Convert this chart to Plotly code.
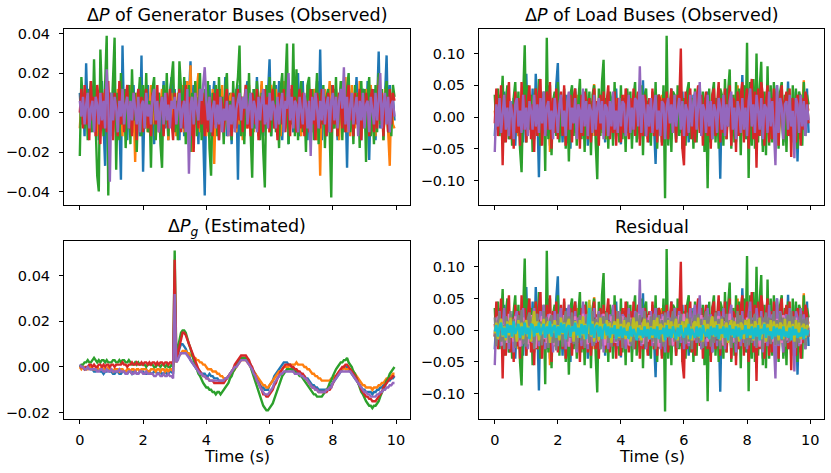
import numpy as np
import plotly.graph_objects as go

# ---------------- data (values in units of 1e-3, sampled every 0.05 s) ----------------
gen_blue = [10, -6, 8, -12, 25, -4, 12, -10, 6, 14, -8, 10, -14, 4, 16, -6, -27, 12, -8, 10,
            -12, 6, 14, -10, 8, -4, -34, 34, -6, 12, -14, 8, 4, -10, 14, -8, 6, 12, -12, 29,
            -30, 8, -6, 14, -10, 4, 12, -16, 8, -4, 10, -12, 6, 16, -8, 4, -14, 10, 18, -6,
            12, -8, 4, -14, 10, 6, -12, 16, -4, 8, 26, -10, 14, -6, 8, -16, 12, 4, -10, -42,
            10, -8, 14, -12, 6, 16, -10, 4, -14, 12, 8, -6, 18, -12, 4, 10, -16, 8, -4, 12,
            -34, 14, -8, 6, -12, 10, 16, -6, 4, -14, 12, -8, 18, -10, 6, 14, -12, 4, -8, 10,
            27, -12, 8, -6, 14, -10, 16, 4, -14, 10, -6, 12, -16, 8, 4, -10, 14, -8, 20, -12,
            6, 16, -10, 4, -14, 12, 8, -6, 10, -12, 16, -8, 32, -14, 6, 10, -12, 4, -10, 14,
            -8, 12, 6, -14, 10, -4, 16, -10, 8, -28, 14, -6, 10, -12, 4, 18, -8, 6, -14, 12,
            10, -10, 16, -24, 8, -6, 12, -14, 4, 31, -8, 10, -12, 6, 29, -10, 14, -6, 8, -4]
gen_orange = [-8, 6, -4, 10, -2, 8, -10, 4, 12, -6, 8, -12, 6, 2, -8, 10, -4, 12, -10, 6,
              4, -10, 8, -6, 12, -4, 6, -12, 10, -2, 8, -6, 14, -10, 4, -25, 10, -6, 8, -4,
              12, -8, 6, -10, 4, 14, -6, 8, -12, 10, -4, 6, 12, -10, 2, 8, -14, 6, 10, -8,
              4, -12, 10, 8, -6, 14, -10, 4, 16, -8, 24, -20, 8, -6, 12, 20, -10, 6, -4, 10,
              -12, 8, 4, -10, 12, -26, 6, -8, 10, -4, 14, -10, 6, 2, -12, 8, 10, -6, 4, -10,
              12, -6, 8, -14, 4, 10, -8, 14, -4, 6, -10, 12, 8, -12, 4, 16, -6, 10, -8, 4,
              -10, 14, 6, -8, 12, -4, 10, -12, 6, 16, -8, 4, -10, 12, 8, -6, 14, -10, 4, 8,
              -12, 10, 6, -8, 14, -6, 4, -10, 12, 8, -14, 6, -32, 10, -4, 12, -8, 6, 16, -10,
              4, -8, 12, 6, -14, 10, -4, 8, 18, -10, 6, -12, 14, 4, -8, 10, -6, 16, -12, 8,
              -4, 12, -10, 6, 14, -8, 4, -12, 10, 18, -6, 8, -14, 12, 4, -10, -27, 10, -6, -8]
gen_green = [-22, 18, 4, -8, 12, -14, 6, 16, -10, 27, -6, -32, -40, 32, 8, -12, 14, 39, -42, 10,
             -4, 16, 38, -29, 10, -14, 20, -6, 12, -18, 8, 14, -16, 22, -4, 10, -20, 6, 18, -12,
             14, -8, 20, -10, 6, -28, 12, 18, -14, 4, 10, -16, -28, 14, -6, 20, -12, 8, 16, 26,
             -10, 6, -14, 26, 12, -8, 18, -16, 4, 14, -20, 10, -6, 16, -12, 8, 20, -14, 2, 12,
             -8, 16, -18, -32, 10, -6, 14, -12, 18, -4, 8, -16, 12, 20, -10, 6, -14, 16, -8, 10,
             18, 34, -12, 8, -16, 14, -6, 20, -10, -33, 12, -8, 16, 4, -14, 10, -20, -38, 14, -6,
             18, -12, 8, 16, -10, 4, -18, 12, 20, -8, 14, 35, -16, 10, -6, 35, -12, 22, -14, 8,
             16, -10, 6, -20, 14, 18, -8, 12, -14, 4, 20, -16, 10, -6, 14, -18, 8, 12, -10, -43,
             14, -8, 18, -12, 6, 16, -14, 10, -6, 12, 20, -10, 8, -16, 14, -4, 10, -18, 16, -8,
             12, -25, 8, 18, -12, 6, -16, 14, -10, 20, -6, 12, -14, 8, 16, -10, 4, -12, 14, 8]
gen_red = [0, 12, -8, 14, -6, 10, -14, 16, -4, 8, -12, 14, 6, -16, 10, -8, 12, -10, 16, -6,
           8, -14, 10, 4, -12, 16, -6, 10, -10, 6, 14, -8, 4, -12, 10, 6, -14, 12, -4, 8,
           -10, 6, 12, -8, 4, -12, 10, 8, -6, 14, -10, 4, 8, -12, 6, 10, -8, 12, -4, -14,
           10, -6, 4, 12, -10, 6, -8, 14, -4, 8, -12, 6, -20, 10, 4, -8, 12, -6, 10, -12,
           6, -10, 8, 4, -12, 10, -6, 12, -14, 8, 4, -10, 6, 12, -8, 4, -12, 10, 6, -8,
           12, -4, 8, -10, 6, 14, -8, 4, -12, 10, 6, -6, 12, -14, 8, 4, -10, 12, -6, 8,
           -10, 6, 12, -8, 4, -14, 10, 6, -6, 12, -10, 8, 4, -12, 14, -6, 8, -10, 4, 12,
           -8, 10, -12, 6, 4, -10, 12, -6, 8, -14, 10, 4, -8, 12, -6, 8, -12, 10, 4, -10,
           14, -6, 8, -12, 10, 4, -8, 12, -10, 6, 14, -4, 8, -12, 10, -6, 4, 12, -14, 8,
           -6, 10, 4, -12, 8, 12, -10, 6, -8, 14, -4, 10, -12, 6, 8, -10, 12, -6, 10, 6]
gen_purple = [6, -2, 8, -6, 4, 10, -8, 2, 6, -10, 8, 4, -6, 10, -4, 6, -8, 22, 4, -35,
              10, -4, 8, 2, -10, 6, -2, 12, -6, 4, 8, -8, 6, -4, 10, 2, -6, 8, -10, 4,
              6, -8, 10, -2, 4, -6, 8, 12, -4, 6, -10, 2, 8, -6, 10, -4, 4, -8, 6, 2,
              8, -6, 4, 10, -8, 2, 6, -10, 12, -31, 4, 8, -6, 10, 2, -4, 12, 6, 14, 23,
              6, -4, 8, -10, 2, 6, -8, 4, -6, 8, -10, 2, -4, 6, -12, 4, -6, 8, -10, 2,
              6, 10, -4, 8, 2, 12, -6, 4, 10, -8, 6, 2, -10, 8, -4, 6, 12, -6, 4, -8,
              10, -4, 6, 2, -8, 8, -6, 4, 10, -10, 6, 2, 20, -4, 8, -8, 6, 4, -10, 8,
              2, -6, 10, 4, -8, 6, -22, 8, -4, 10, 2, -8, 6, -4, 12, -6, 4, 8, -10, 6,
              10, -4, 8, -8, 6, 12, 2, 23, -6, 8, -10, 4, 10, -6, 2, 8, -12, 6, -4, 10,
              -8, 4, 6, -10, 8, 2, -6, 10, -4, 6, 20, -8, 4, 10, -6, 8, -10, 4, 6, -2]

load_blue = [-30, 20, -10, 35, -25, 10, 40, -20, 15, -35, 25, -10, 30, -45, 15, 20, -30, 10, -40, 25,
             68, -20, 30, -15, 45, -35, 68, 10, -95, 40, -25, 15, 35, -30, 20, -45, 10, 30, -20, 50,
             85, -30, 15, -40, 25, 35, -20, 10, -50, 30, -15, 45, -25, 20, -35, 15, 40, -10, 25, -45,
             30, -20, 10, 40, -30, 15, -25, 35, -10, 20, -40, 30, 15, -20, 25, -35, 10, 45, -15, 20,
             -43, 25, 15, -30, 40, -10, 20, -35, 30, 15, -25, 10, 35, -20, 58, -30, 15, 25, -40, 10,
             30, -15, -74, 20, 35, -25, 10, 40, -30, 15, 25, -20, 45, -10, 30, -35, 20, 15, -25, 40,
             -20, 30, 10, -40, 25, -15, 35, 20, -30, 10, 45, -25, 15, 30, -20, 40, -10, 25, -35, 15,
             30, -20, 10, -97, 35, -25, 20, 45, -15, 30, -30, 10, 25, -40, 20, 15, -25, 66, -10, 30,
             -35, 20, 40, -15, 25, -30, 10, 35, -20, 15, -45, 30, 20, -25, 40, -10, 15, -30, 25, 50,
             -20, 35, 10, -40, 25, -15, 56, -30, 20, 15, -25, 40, -70, 20, 35, -15, 30, -25, 45, -25]
load_orange = [10, -15, 25, -10, 20, -30, 15, 5, -20, 30, -10, 20, -25, 15, 10, -30, 25, -15, 20, -10,
               30, -20, 15, -25, 10, 35, -15, 20, -30, 10, 25, -20, 15, -10, 30, -55, 20, 10, -25, 15,
               -20, 30, 10, -15, 25, -35, 15, 20, -10, 30, -25, 10, 35, -20, 15, -10, 25, -30, 20, 10,
               -15, 25, -30, 52, 15, -20, 10, 30, -25, 15, 20, -35, 10, -15, 25, 20, -10, 30, -20, 15,
               -25, 10, 35, -15, 20, -30, 25, 10, -20, 40, -15, 20, -25, 15, 30, -10, 20, -35, 15, 25,
               -20, 30, 10, -25, 20, -15, 35, -30, 15, 25, -10, 20, -35, 15, 10, -25, 30, -15, 20, 10,
               -30, 20, 15, -10, 35, -25, 15, 20, -30, 10, 25, -15, 30, -20, 10, -35, 20, 15, -25, 30,
               -15, 25, 10, -30, 20, -20, 15, 30, -10, 25, -25, 10, 35, -15, 50, -20, 10, 25, -30, 15,
               20, -25, 30, -10, 15, -30, 25, 10, -20, 35, -15, 20, -25, 10, 30, -35, 15, 20, -10, 25,
               -30, 15, 25, -20, 10, 35, -25, 15, -10, 30, -20, 25, 10, -35, 20, 15, 58, -25, 20, 10]
load_green = [35, -20, 45, -30, 10, 65, -40, 25, 50, -35, 20, -45, 30, 55, -25, 40, -50, -87, 30, 113,
              -40, 50, -20, 35, -55, 25, 45, -30, 60, -45, 20, 40, -85, 125, -35, 50, -60, 25, 40, -30,
              55, -40, 30, -25, 45, -50, 20, -70, 35, 50, -30, 40, -45, 25, 60, -35, 30, -55, 45, -20,
              40, -60, 35, 50, -40, -98, 45, -30, 55, 90, -35, 30, -50, 40, 25, -45, 55, -30, 20, -40,
              50, -35, 30, -55, 45, -25, 40, -50, 30, 55, -40, 25, -35, 50, -60, 35, 45, -30, 25, -45,
              40, -30, 55, -50, 35, 25, -40, 50, -128, 128, -45, 30, -55, 40, 35, -40, 50, -30, 45, -50,
              30, -45, 40, 55, -35, 30, -50, 45, -40, 35, 50, -30, 40, -55, 30, -112, 45, -40, 35, 55,
              -40, 30, -50, 45, 35, -45, 60, -35, 40, 75, -50, 35, -40, 55, -30, 45, -60, 40, 50, -35,
              117, -96, 55, -45, 60, -50, 100, -40, 45, 87, -55, 40, -60, 80, -45, 50, -40, 55, -35, 45,
              -50, 40, 55, -45, 35, -55, 45, 30, -40, 50, -35, 45, -50, 40, 30, -45, 55, -30, 35, 20]
load_red = [-10, 45, -30, 20, 50, -76, 35, -40, 25, 55, -35, 20, -50, 40, -25, 30, -45, 55, -20, 35,
            -40, 25, 50, -35, 20, -55, 45, -30, 35, 60, -45, 25, -30, 40, -20, 55, -50, 30, -25, 45,
            -35, 20, 40, -30, 50, -45, 25, -20, 35, -40, 30, 45, -25, 20, -50, 35, -30, 40, 25, -35,
            30, -40, 20, 45, -30, 25, -45, 35, -20, 40, -30, 25, 50, -35, 20, -25, 40, -45, 30, 20,
            -40, 35, -25, 45, 20, -35, 30, -20, 45, -30, 25, 40, -45, 20, -30, 35, 25, -40, 30, -25,
            45, -30, 20, -40, 35, 25, -45, 30, -20, 40, -35, 20, 45, -25, 30, -40, 35, 20, 108, -50,
            -76, 40, -30, 25, 45, -35, 20, -40, 30, 50, -25, 35, -45, 20, 40, -30, 25, -50, 35, 45,
            -30, 20, 55, -40, 30, -25, 45, -35, 20, 50, -45, 30, 25, -55, 40, -30, 35, 55, -40, 25,
            45, -50, 30, 60, -35, 40, -80, 45, -30, 55, 35, -45, 25, 50, -40, 30, -35, 45, -25, 40,
            -45, 30, 50, -35, 25, 40, -30, 45, -63, 30, 20, -40, 35, 25, -45, 30, -20, 40, 25, -10]
load_purple = [-55, 20, -15, 30, -25, 10, 35, -20, 15, -30, 25, 5, -35, 20, 30, -15, 10, -25, 35, -20,
               15, -30, 25, 10, -20, 35, -15, 20, -25, 30, -10, 40, -30, 15, 25, -20, 10, -35, 30, 5,
               -25, 20, 35, -15, 10, -30, 25, 40, -20, 15, -10, 30, -35, 20, 10, -25, 45, -15, 25, -30,
               20, 10, -25, 35, -20, 15, 30, -10, 25, -35, 20, 15, -30, 25, -15, 40, -20, 10, -25, 30,
               -15, 25, 20, -30, 10, 35, -25, 15, -20, 30, 25, -15, 80, -25, 35, 10, -30, 20, -15, 30,
               -25, 15, 35, -20, 10, -30, 25, 20, -35, 15, 30, -10, 20, -25, 35, -15, 10, 30, -20, 25,
               -30, 20, 10, -25, 35, -15, 25, 40, -20, 15, 55, -30, 20, 10, -25, 35, -15, 25, -35, 20,
               10, -25, 30, 15, -20, 35, -30, 20, -15, 25, 40, -20, 15, -35, 25, 10, -25, 30, -20, 15,
               -30, 25, 45, -15, 20, -25, 35, 10, -20, 30, -35, 20, 15, -25, 40, -15, 25, -20, -76, 50,
               -25, 30, 15, -35, 20, 25, -20, 35, -15, 10, -65, 30, 20, -25, 35, -15, 25, -30, 20, -5]

est_blue = [1, 0, 0, -1, -1, 0, 0, -1, -1, -2, -2, -1, -1, -2, -2, -3, -2, -2, -1, -2,
            -2, -3, -3, -2, -2, -3, -3, -2, -2, -3, -3, -2, -2, -3, -2, -2, -3, -3, -2, -2,
            -2, -3, -3, -2, -2, -3, -3, -2, -2, -3, -3, -2, -3, -3, -2, -3, -3, -2, -2, -3,
            30, 3, 6, 8, 10, 10, 9, 8, 6, 5, 3, 2, 1, 0, -1, -1, -2, -3, -3, -3,
            -4, -4, -3, -4, -4, -5, -5, -5, -6, -6, -6, -6, -5, -5, -4, -3, -2, -1, 0, 1,
            2, 3, 3, 4, 4, 4, 3, 2, 1, -1, -2, -3, -5, -6, -8, -9, -9, -10, -10, -10,
            -8, -7, -6, -4, -3, -2, -1, 0, 1, 2, 2, 2, 1, 1, 0, -1, -1, -2, -2, -3,
            -3, -4, -4, -5, -5, -6, -7, -8, -8, -9, -9, -10, -10, -10, -10, -10, -10, -10, -9, -8,
            -7, -6, -5, -4, -3, -2, -1, 0, 0, 0, -1, -2, -3, -4, -5, -6, -7, -8, -9, -10,
            -10, -11, -11, -11, -11, -12, -11, -11, -10, -10, -9, -9, -8, -8, -7, -6, -6, -5, -5, -4]
est_orange = [0, -1, 0, 0, -1, -1, 0, 0, -1, -1, -1, 0, -1, -1, 0, -1, -1, -1, 0, -1,
              -1, -2, -1, -1, -1, -2, -1, -1, -2, -2, -1, -1, -2, -1, -1, -2, -1, -1, -2, -1,
              -1, -1, -1, -2, -2, -1, -1, -1, -2, -1, -1, -2, -1, -1, -2, -1, -2, -1, -1, -2,
              25, 2, 4, 5, 6, 7, 7, 7, 6, 6, 5, 5, 4, 4, 3, 3, 2, 2, 1, 1,
              0, -1, -1, -1, -2, -2, -2, -3, -3, -4, -4, -5, -5, -5, -4, -4, -3, -2, -1, 0,
              1, 2, 3, 3, 3, 3, 2, 1, 0, -1, -2, -3, -4, -5, -6, -7, -8, -8, -9, -9,
              -8, -7, -6, -5, -4, -3, -2, -2, -1, 0, 0, 0, 0, 1, 1, 1, 1, 2, 1, 1,
              1, 1, 0, 0, -1, -1, -2, -3, -3, -4, -4, -5, -5, -6, -6, -6, -6, -6, -6, -5,
              -5, -4, -4, -3, -2, -1, -1, 0, -1, -1, -1, -1, -2, -2, -3, -4, -5, -6, -7, -8,
              -8, -9, -9, -9, -9, -10, -9, -9, -9, -8, -8, -7, -7, -6, -5, -5, -4, -4, -3, -3]
est_green = [0, 1, 1, 2, 2, 3, 2, 2, 3, 4, 3, 2, 3, 2, 3, 3, 2, 3, 2, 2,
             2, 3, 3, 2, 2, 3, 2, 3, 3, 2, 2, 3, 2, 1, 1, 2, 1, 2, 1, 1,
             1, 1, 0, 1, 1, 1, 1, 0, 0, 1, 1, 0, 1, 1, 0, 1, 0, 0, 1, 0,
             51, 5, 8, 12, 15, 16, 16, 15, 12, 10, 8, 5, 3, 1, -1, -3, -4, -6, -7, -8,
             -9, -9, -10, -10, -11, -11, -12, -11, -11, -12, -11, -10, -9, -8, -7, -5, -4, -2, -1, 1,
             2, 3, 4, 4, 4, 4, 3, 2, 0, -2, -4, -6, -9, -11, -13, -15, -17, -18, -19, -19,
             -18, -17, -16, -14, -12, -10, -8, -6, -4, -3, -2, -1, -1, -1, -1, -2, -2, -3, -3, -4,
             -4, -5, -6, -7, -8, -9, -10, -11, -12, -12, -13, -13, -13, -13, -12, -11, -10, -9, -7, -6,
             -4, -2, -1, 0, 1, 2, 2, 3, 3, 4, 2, 1, 0, -2, -3, -5, -7, -9, -11, -12,
             -14, -15, -16, -17, -17, -18, -17, -17, -16, -15, -13, -11, -9, -8, -6, -5, -3, -2, -1, 0]
est_red = [0, 0, 0, -1, 0, 0, 1, 1, 0, 1, 0, 0, 1, 1, 0, 1, 0, 1, 1, 0,
           1, 1, 0, 1, 1, 1, 1, 2, 1, 1, 0, 1, 1, 2, 1, 1, 2, 1, 1, 2,
           1, 2, 2, 1, 2, 1, 2, 2, 1, 2, 1, 2, 2, 1, 2, 2, 1, 2, 2, 1,
           47, 3, 6, 10, 13, 15, 15, 14, 12, 10, 8, 6, 4, 2, 0, -1, -2, -3, -4, -4,
           -5, -5, -6, -6, -6, -7, -7, -7, -7, -7, -7, -7, -6, -5, -4, -3, -2, -1, 1, 2,
           3, 4, 5, 5, 5, 5, 4, 3, 1, 0, -2, -4, -6, -7, -9, -10, -12, -12, -13, -13,
           -12, -11, -10, -8, -7, -5, -4, -2, -1, 0, 1, 1, 1, 1, 0, 0, -1, -1, -2, -2,
           -3, -3, -4, -5, -6, -7, -8, -9, -9, -10, -10, -11, -11, -11, -11, -11, -11, -10, -10, -9,
           -7, -6, -4, -3, -2, -1, 0, 0, 1, 1, 0, -1, -2, -3, -4, -5, -7, -8, -10, -11,
           -12, -13, -13, -14, -14, -15, -15, -15, -14, -13, -12, -11, -9, -8, -7, -6, -5, -5, -4, -4]
est_purple = [1, 0, 0, -1, -1, 0, -1, -1, -1, -1, -1, -2, -2, -1, -1, -2, -2, -1, -2, -2,
              -1, -2, -2, -2, -2, -1, -2, -2, -2, -3, -3, -2, -2, -3, -3, -2, -3, -3, -2, -2,
              -3, -3, -2, -3, -3, -3, -3, -4, -4, -3, -3, -4, -4, -3, -4, -4, -3, -4, -4, -5,
              32, 2, 3, 5, 6, 6, 6, 6, 5, 4, 3, 2, 1, 0, -1, -2, -3, -3, -4, -4,
              -5, -5, -6, -6, -6, -6, -6, -6, -6, -6, -6, -6, -5, -5, -4, -3, -2, -1, 0, 0,
              1, 2, 3, 3, 3, 3, 2, 1, 0, -1, -3, -4, -6, -7, -9, -10, -11, -12, -12, -12,
              -11, -10, -9, -7, -6, -5, -4, -3, -3, -2, -2, -2, -2, -2, -2, -2, -3, -3, -3, -3,
              -4, -4, -5, -5, -6, -7, -8, -9, -9, -10, -10, -11, -11, -11, -11, -11, -10, -10, -9, -9,
              -7, -6, -5, -4, -3, -2, -2, -2, -2, -2, -2, -2, -3, -4, -5, -6, -7, -8, -9, -10,
              -11, -11, -12, -12, -13, -13, -13, -13, -12, -12, -11, -11, -10, -10, -9, -9, -8, -8, -7, -7]

res_brown = [-10, 15, -5, 20, -12, 8, -18, 14, 4, -16, 12, -8, 20, -14, 6, 10, -20, 12, -6, 16,
             -14, 8, 18, -10, 4, -20, 14, -6, 12, 16, -12, 6, -18, 10, 20, -8, 4, -14, 12, -10,
             18, -6, 10, -16, 14, 4, -12, 20, -10, 6, 16, -14, 8, -20, 12, -4, 18, -12, 6, 10,
             -16, 12, -8, 20, -14, 6, 10, -18, 14, -4, 12, -20, 16, 8, -10, 18, -12, 4, -16, 14,
             6, -12, 20, -8, 10, -16, 14, 4, -18, 12, -6, 16, -14, 10, 20, -10, 4, -16, 12, -8,
             18, -14, 6, 12, -20, 10, -6, 16, -12, 8, 14, -18, 4, 20, -10, 12, -16, 6, 18, -12,
             10, -8, 16, -18, 4, 14, -12, 20, -6, 10, -16, 12, 8, -14, 18, -10, 6, -20, 14, -4,
             12, -16, 10, 6, -14, 20, -8, 12, -18, 4, 16, -12, 10, -6, 18, -16, 8, 14, -10, 6,
             -20, 12, 4, -14, 16, -8, 10, -18, 20, -6, 12, -16, 6, 14, -12, 18, -10, 4, -16, 12,
             8, -14, 20, -10, 6, -18, 12, 16, -8, 4, -14, 18, -6, 10, -20, 12, 14, -10, 6, 2]
res_pink = [10, -15, 22, -8, 18, -24, 6, 14, -20, 26, -12, 8, -18, 22, -6, 16, -26, 12, 20, -10,
            14, -22, 8, 24, -16, 10, -28, 18, -6, 12, 22, -14, 6, -20, 16, 26, -10, 8, -24, 14,
            -12, 20, 6, -18, 24, -8, 12, -26, 16, 10, -14, 22, -20, 8, 18, -12, 26, -6, 10, -22,
            16, -10, 24, -14, 8, 20, -18, 12, -8, 26, -24, 10, 14, -16, 22, -6, 12, -20, 18, 8,
            -14, 22, -10, 16, 6, -24, 20, -12, 10, 18, -8, 26, -16, 12, -22, 14, 8, -18, 24, -6,
            12, -20, 16, 10, -26, 18, -8, 22, -14, 6, 20, -12, 14, -24, 10, 16, -18, 24, -10, 8,
            26, -14, 10, -20, 18, 6, -16, 22, -12, 14, -8, 24, -22, 10, 16, -18, 8, 20, -14, 12,
            -10, 18, 22, -16, 8, -24, 14, 10, -20, 26, -6, 12, -18, 20, 8, -14, 24, -12, 16, -8,
            20, -22, 12, 8, -16, 24, -10, 18, -26, 14, 6, -20, 22, -12, 10, 16, -18, 8, -24, 18,
            -8, 14, -20, 24, 10, -16, 18, -12, 22, 6, -14, 20, -10, 16, -22, 12, 8, -18, 14, -6]
res_gray = [20, -25, 12, 28, -18, 8, -30, 22, 14, -20, 30, -12, 18, -28, 10, 24, -16, 32, -22, 14,
            -26, 18, 28, -14, 22, -30, 10, 26, -18, 14, -24, 30, -10, 20, -28, 16, 24, -20, 12, -32,
            26, -14, 20, -26, 12, 30, -18, 22, -12, 28, -22, 16, -30, 10, 24, -16, 20, -28, 14, 26,
            -20, 12, 30, -24, 18, -14, 26, -30, 16, 22, -12, 28, -20, 14, -26, 24, 10, -18, 30, -16,
            22, -28, 14, 20, -12, 26, -22, 18, -30, 12, 28, -16, 24, -20, 10, 30, -26, 16, -14, 22,
            -18, 26, -30, 12, 24, -20, 16, -26, 28, -12, 20, -24, 14, 30, -18, 22, -28, 10, 26, -16,
            14, -22, 28, -18, 20, -30, 12, 24, -16, 26, -20, 18, -28, 14, 30, -12, 22, -26, 16, -20,
            28, -14, 18, -30, 22, 12, -24, 26, -18, 16, -28, 20, 10, -22, 30, -16, 24, -12, 18, -26,
            16, -24, 30, -20, 12, 26, -28, 18, -14, 22, -30, 14, 28, -18, 20, -22, 12, 30, -24, 16,
            -22, 28, -16, 20, -26, 14, 24, -18, 30, -12, 22, -28, 16, -20, 26, -14, 18, -24, 20, -10]
res_olive = [-5, 12, -14, 8, 18, -10, 6, -16, 14, -8, 20, -12, 10, 4, -18, 16, -6, 12, -14, 8,
             16, -10, 6, -18, 12, 30, -8, 14, -16, 10, -6, 18, -12, 8, 14, -20, 10, -4, 16, -12,
             8, -16, 20, -6, 12, -14, 10, 18, -10, 6, -18, 14, 8, -12, 16, -8, 22, -14, 10, -6,
             48, -10, 14, -18, 8, 12, -16, 20, -6, 10, -14, 16, -8, 12, -20, 6, 14, -10, 18, -12,
             10, -6, 16, -14, 8, 12, -18, 6, 20, -10, 14, -12, 8, -16, 10, 18, -8, 12, -14, 6,
             -12, 16, -8, 20, -14, 10, 6, -18, 12, -10, 16, -6, 14, -12, 8, 18, -16, 10, -8, 14,
             -10, 12, 18, -14, 6, -16, 10, 14, -8, 20, -12, 8, -18, 16, -6, 10, -14, 12, 22, -10,
             14, -8, 10, -16, 18, -12, 6, 12, -20, 8, 16, -10, 14, -6, 10, -18, 12, 8, -14, 16,
             -6, 18, -12, 10, -16, 14, 8, -10, 20, -14, 6, 12, -18, 10, -8, 16, -12, 14, -6, 10,
             -16, 12, 8, -14, 18, -10, 6, 14, -12, 10, -18, 16, -8, 12, -14, 6, 10, -12, 8, 4]
res_cyan = [-2, 8, -10, 6, 12, -8, 4, -12, 10, -4, 8, -10, 14, -6, 2, 10, -12, 6, -8, 12,
            -6, 4, -14, 10, 8, -10, 6, -4, 12, -8, 2, 10, -12, 6, -6, 14, -10, 4, 8, -12,
            6, -8, 12, -4, 10, -14, 4, 8, -10, 6, -2, 12, -8, 4, -12, 10, -6, 8, -14, 6,
            35, -8, 10, -12, 4, 8, -10, 6, -14, 2, 10, -8, 6, -12, 4, -6, 8, -14, 2, -10,
            6, -12, 4, -8, -2, -14, 6, -10, 2, -6, -16, 4, -8, 0, -12, 6, -10, 2, -14, 4,
            -8, 2, -12, 6, -14, 0, -6, 4, -16, 8, -10, 2, -12, 6, -4, -14, 4, -10, 8, -6,
            -12, 4, -8, 10, -14, 2, -6, -12, 6, -10, 4, -16, 8, -4, -10, 2, -14, 6, -8, 4,
            -10, 8, -14, 2, -6, 6, -12, 4, -16, 8, -8, 2, -12, 6, -10, 4, -14, 0, -6, 8,
            -12, 2, -8, 6, -14, 4, -10, 8, -16, 2, -6, 10, -12, 4, -8, -2, -14, 6, -10, 4,
            -8, 2, -14, 6, -10, -2, -12, 4, -16, 6, -8, 2, -12, -4, -10, 4, -14, 2, -8, 0]

panel_titles = ["Δ<i>P</i> of Generator Buses (Observed)",
                "Δ<i>P</i> of Load Buses (Observed)",
                "Δ<i>P</i><sub><i>g</i></sub> (Estimated)",
                "Residual"]
x_label = "Time (s)"
SAMPLE_DT = 0.05

TAB10 = ["#1f77b4", "#ff7f0e", "#2ca02c", "#d62728", "#9467bd",
         "#8c564b", "#e377c2", "#7f7f7f", "#bcbd22", "#17becf"]

panels = [
    [gen_blue, gen_orange, gen_green, gen_red, gen_purple],
    [load_blue, load_orange, load_green, load_red, load_purple],
    [est_blue, est_orange, est_green, est_red, est_purple],
    [load_blue, load_orange, load_green, load_red, load_purple,
     res_brown, res_pink, res_gray, res_olive, res_cyan],
]

W, H = 831, 473
boxes = [(64, 410, 26, 204), (479, 824, 26, 204),
         (64, 410, 240, 420), (479, 824, 240, 420)]
yranges = [(-0.047, 0.0425), (-0.139, 0.139), (-0.023, 0.0552), (-0.1406, 0.1406)]
ytickvals = [[-0.04, -0.02, 0.0, 0.02, 0.04],
             [-0.10, -0.05, 0.0, 0.05, 0.10],
             [-0.02, 0.0, 0.02, 0.04],
             [-0.10, -0.05, 0.0, 0.05, 0.10]]

fig = go.Figure()
FONT = "DejaVu Sans"
TICK_FONT = dict(family=FONT, size=14.5, color="black")
layout = dict(width=W, height=H, margin=dict(l=0, r=0, t=0, b=0),
              paper_bgcolor="white", plot_bgcolor="white", showlegend=False,
              font=dict(family=FONT, size=14.5, color="black"))
annotations = []
for k, (series, box) in enumerate(zip(panels, boxes)):
    ax = "" if k == 0 else str(k + 1)
    xa, ya = "x" + ax, "y" + ax
    for j, vals in enumerate(series):
        tt = [round(i * SAMPLE_DT, 2) for i in range(len(vals))]
        fig.add_trace(go.Scatter(x=tt, y=np.array(vals) / 1000.0, mode="lines",
                                 line=dict(color=TAB10[j], width=2.4),
                                 xaxis=xa, yaxis=ya, hoverinfo="skip"))
    l, r, t, b = box
    bottom_row = k >= 2
    layout["xaxis" + ax] = dict(
        domain=[l / W, r / W], anchor=ya, range=[-0.5, 10.44],
        tickvals=[0, 2, 4, 6, 8, 10], showticklabels=bottom_row,
        ticks="outside", ticklen=4, tickwidth=1, tickcolor="black",
        ticklabelstandoff=3,
        showline=True, linecolor="black", linewidth=1, mirror=True,
        showgrid=False, zeroline=False, tickfont=TICK_FONT)
    layout["yaxis" + ax] = dict(
        domain=[1 - b / H, 1 - t / H], anchor=xa, range=list(yranges[k]),
        tickvals=ytickvals[k], tickformat=".2f", ticklabelstandoff=6,
        ticks="outside", ticklen=4, tickwidth=1, tickcolor="black",
        showline=True, linecolor="black", linewidth=1, mirror=True,
        showgrid=False, zeroline=False, tickfont=TICK_FONT)
    # panel title, centred above the axes box
    annotations.append(dict(text=panel_titles[k], xref="paper", yref="paper",
                            x=(l + r) / 2 / W, y=1 - (t - 14) / H, xanchor="center",
                            yanchor="middle", showarrow=False,
                            font=dict(family=FONT, size=17.5, color="black")))
    if bottom_row:
        annotations.append(dict(text=x_label, xref="paper", yref="paper",
                                x=(l + r) / 2 / W, y=1 - 457 / H, xanchor="center",
                                yanchor="middle", showarrow=False,
                                font=dict(family=FONT, size=16, color="black")))
layout["annotations"] = annotations
fig.update_layout(**layout)
# remove the default page margin so the figure sits at the window's top-left corner
fig.write_html("out.html", config={"displayModeBar": False},
               post_script="document.body.style.margin='0';document.body.style.overflow='hidden';")
